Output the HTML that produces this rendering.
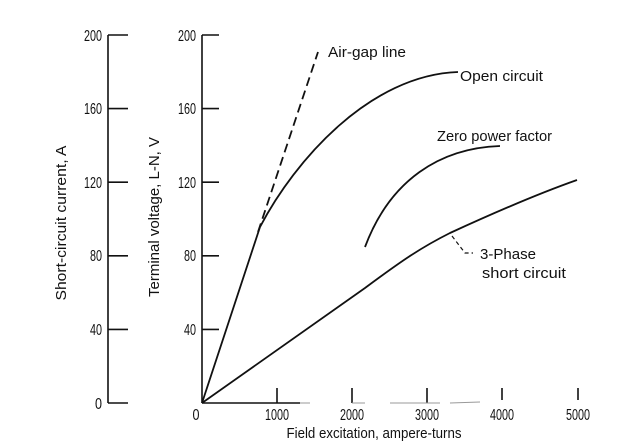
<!DOCTYPE html>
<html><head><meta charset="utf-8"><style>
html,body{margin:0;padding:0;background:#fff;}
svg{display:block;}
text{font-family:"Liberation Sans",sans-serif;fill:#111;}
</style></head><body>
<svg width="637" height="444" viewBox="0 0 637 444" xmlns="http://www.w3.org/2000/svg">
<g stroke="#111" stroke-width="1.6" fill="none">
<line x1="108" y1="35" x2="108" y2="403"/>
<line x1="108" y1="35" x2="128" y2="35"/>
<line x1="108" y1="108.6" x2="128" y2="108.6"/>
<line x1="108" y1="182.2" x2="128" y2="182.2"/>
<line x1="108" y1="255.8" x2="128" y2="255.8"/>
<line x1="108" y1="329.4" x2="128" y2="329.4"/>
<line x1="108" y1="403" x2="128" y2="403"/>
<line x1="202" y1="35" x2="202" y2="403"/>
<line x1="202" y1="35" x2="219" y2="35"/>
<line x1="202" y1="108.6" x2="219" y2="108.6"/>
<line x1="202" y1="182.2" x2="219" y2="182.2"/>
<line x1="202" y1="255.8" x2="219" y2="255.8"/>
<line x1="202" y1="329.4" x2="219" y2="329.4"/>
<line x1="202" y1="403" x2="300" y2="403"/>
<line x1="277" y1="388" x2="277" y2="403"/>
<line x1="352" y1="388" x2="352" y2="403"/>
<line x1="427" y1="388" x2="427" y2="403"/>
<line x1="502" y1="388" x2="502" y2="400"/>
<line x1="578" y1="388" x2="578" y2="400"/>
</g>
<g stroke="#999" stroke-width="1" fill="none">
<line x1="300" y1="403" x2="310" y2="403"/>
<line x1="352" y1="403" x2="365" y2="403"/>
<line x1="390" y1="403" x2="440" y2="403"/>
<line x1="450" y1="403" x2="480" y2="402"/>
</g>
<g stroke="#111" stroke-width="1.8" fill="none">
<path d="M202,403 L260,227 C295,160 370,75 458,72"/>
<path d="M258,232 L318,52" stroke-dasharray="9,5"/>
<path d="M365,247 C390,180 440,148 500,146"/>
<path d="M202,403 L365,288 C400,262 420,248 450,233 C500,210 540,193 577,180"/>
<path d="M452,236 L465,253 L473,253" stroke-width="1.2" stroke-dasharray="4,3"/>
</g>
<g font-size="16" text-anchor="end">
<text x="102" y="41" textLength="18" lengthAdjust="spacingAndGlyphs">200</text>
<text x="102" y="114" textLength="18" lengthAdjust="spacingAndGlyphs">160</text>
<text x="102" y="188" textLength="18" lengthAdjust="spacingAndGlyphs">120</text>
<text x="102" y="261" textLength="12" lengthAdjust="spacingAndGlyphs">80</text>
<text x="102" y="335" textLength="12" lengthAdjust="spacingAndGlyphs">40</text>
<text x="102" y="409" textLength="7" lengthAdjust="spacingAndGlyphs">0</text>
<text x="196" y="41" textLength="18" lengthAdjust="spacingAndGlyphs">200</text>
<text x="196" y="114" textLength="18" lengthAdjust="spacingAndGlyphs">160</text>
<text x="196" y="188" textLength="18" lengthAdjust="spacingAndGlyphs">120</text>
<text x="196" y="261" textLength="12" lengthAdjust="spacingAndGlyphs">80</text>
<text x="196" y="335" textLength="12" lengthAdjust="spacingAndGlyphs">40</text>
</g>
<g font-size="16" text-anchor="middle">
<text x="196" y="420" textLength="7" lengthAdjust="spacingAndGlyphs">0</text>
<text x="277" y="420" textLength="24" lengthAdjust="spacingAndGlyphs">1000</text>
<text x="352" y="420" textLength="24" lengthAdjust="spacingAndGlyphs">2000</text>
<text x="427" y="420" textLength="24" lengthAdjust="spacingAndGlyphs">3000</text>
<text x="502" y="420" textLength="24" lengthAdjust="spacingAndGlyphs">4000</text>
<text x="578" y="420" textLength="24" lengthAdjust="spacingAndGlyphs">5000</text>
</g>
<g font-size="15" text-anchor="middle">
<text x="374" y="438" textLength="175" lengthAdjust="spacingAndGlyphs">Field excitation, ampere-turns</text>
<text transform="translate(66,223) rotate(-90)" textLength="155" lengthAdjust="spacingAndGlyphs">Short-circuit current, A</text>
<text transform="translate(159,217) rotate(-90)" textLength="160" lengthAdjust="spacingAndGlyphs">Terminal voltage, L-N, V</text>
</g>
<g font-size="15">
<text x="328" y="57" textLength="78" lengthAdjust="spacingAndGlyphs">Air-gap line</text>
<text x="460" y="81" textLength="83" lengthAdjust="spacingAndGlyphs">Open circuit</text>
<text x="437" y="141" textLength="115" lengthAdjust="spacingAndGlyphs">Zero power factor</text>
<text x="480" y="259" textLength="56" lengthAdjust="spacingAndGlyphs">3-Phase</text>
<text x="482" y="278" textLength="84" lengthAdjust="spacingAndGlyphs">short circuit</text>
</g>
</svg>
</body></html>
